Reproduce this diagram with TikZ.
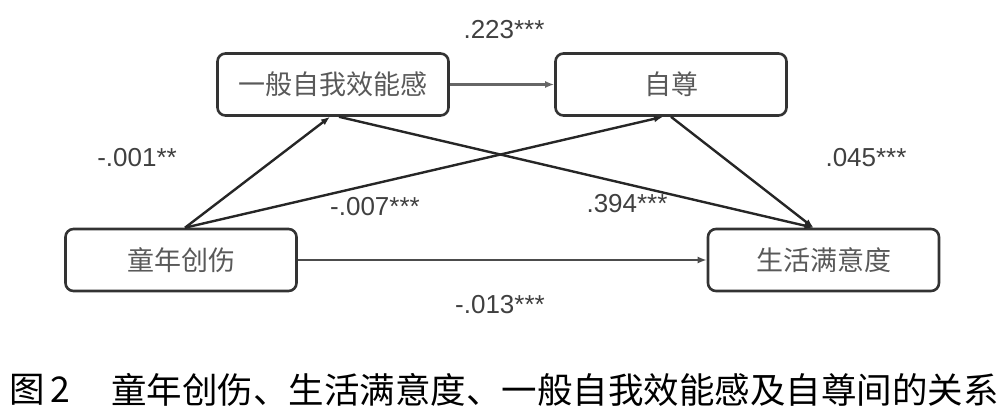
\documentclass[tikz,border=0pt]{standalone}
\usepackage{fontspec}
\setmainfont{Liberation Sans}
\newfontfamily\cjk{Noto Sans CJK SC}
\usetikzlibrary{arrows.meta}
\begin{document}
\begin{tikzpicture}[x=1pt, y=-1pt,
        var/.style = {draw = black!80, line width = 2.6pt, rounded corners = 8pt,
            minimum width = 231pt, minimum height = 62pt, inner sep = 0pt,
            text = black!65, font = \cjk\fontsize{27}{30}\selectfont},
        path/.style = {line width = 2.4pt, draw = black!85,
            -{Latex[length = 9pt, width = 7pt]}},
        coef/.style = {text = black!75, inner sep = 0pt, font = \fontsize{26}{30}\selectfont}]
        \useasboundingbox (0, 0) rectangle (1001, 409);
        \node[var] (se) at (333, 84.5) {一般自我效能感};
        \node[var] (es) at (671, 84.5) {自尊};
        \node[var] (ct) at (181, 260) {童年创伤};
        \node[var] (ls) at (823.5, 260) {生活满意度};
        \node[coef] (c1) at (504, 30) {.223***};
        \node[coef] (c2) at (137, 158) {-.001**};
        \node[coef] (c3) at (375, 207) {-.007***};
        \node[coef] (c4) at (627, 204) {.394***};
        \node[coef] (c5) at (866, 158) {.045***};
        \node[coef] (c6) at (500, 305) {-.013***};
        \draw[path, draw = black!60] (se) -- (es);
        \draw[path] ([xshift = 4pt]ct.north) -- ([xshift = -3pt]se.south);
        \draw[path] ([xshift = 4pt]ct.north) -- ([xshift = -8pt]es.south);
        \draw[path] ([xshift = 6pt]se.south) -- ([xshift = -10pt]ls.north);
        \draw[path] (es.south) -- ([xshift = -10pt]ls.north);
        \draw[path, draw = black!70] (ct) -- (ls);
        \node[anchor = west, inner sep = 0pt, font = \cjk\fontsize{35.5}{38}\selectfont] (fig) at (9, 390) {图\,2};
        \node[anchor = east, inner sep = 0pt, font = \cjk\fontsize{35.5}{38}\selectfont] (cap) at (999, 390) {童年创伤、生活满意度、一般自我效能感及自尊间的关系};
\end{tikzpicture}
\end{document}
